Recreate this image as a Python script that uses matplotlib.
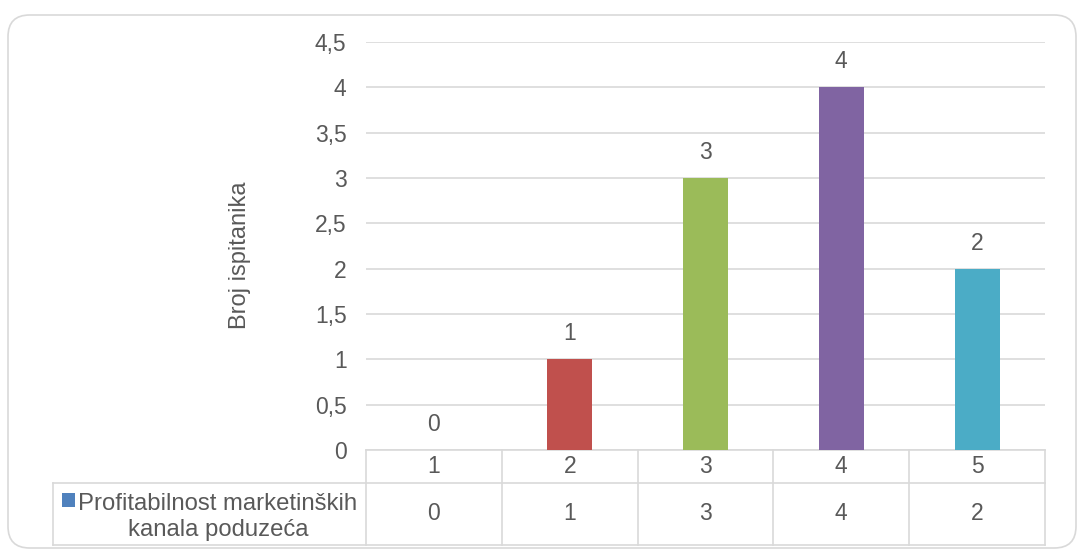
import matplotlib
matplotlib.use("Agg")
import matplotlib.pyplot as plt
import matplotlib.transforms as mtrans
from matplotlib.patches import FancyBboxPatch, Rectangle
from matplotlib.lines import Line2D

plt.rcParams['font.family'] = ['Liberation Sans', 'DejaVu Sans']

categories = ["1", "2", "3", "4", "5"]
values = [0, 1, 3, 4, 2]
series_name = "Profitabilnost marketinških\nkanala poduzeća"
y_label = "Broj ispitanika"
y_ticks = [0, 0.5, 1, 1.5, 2, 2.5, 3, 3.5, 4, 4.5]
y_tick_labels = ["0", "0,5", "1", "1,5", "2", "2,5", "3", "3,5", "4", "4,5"]
bar_colors = ["#4F81BD", "#C0504D", "#9BBB59", "#8064A2", "#4BACC6"]

W, H = 1084, 554
fig = plt.figure(figsize=(W / 100, H / 100), dpi=100)
TXT = "#595959"
GRID = "#D9D9D9"
FS = 16.5


def fx(px):
    return px / W


def fy(py):
    return 1 - py / H


# outer rounded border
border = FancyBboxPatch((fx(8), fy(548)), fx(1076) - fx(8), fy(15) - fy(548),
                        boxstyle="round,pad=0,rounding_size=0.02",
                        transform=fig.transFigure, facecolor="none",
                        edgecolor=GRID, linewidth=1.2, mutation_aspect=W / H, zorder=-5)
fig.add_artist(border)

left, right, top, bottom = 366, 1045, 42, 450
ax = fig.add_axes([fx(left), fy(bottom), fx(right) - fx(left), fy(top) - fy(bottom)])
ax.set_facecolor("none")
x = list(range(len(categories)))
ax.bar(x, values, width=0.33, color=bar_colors, zorder=3)
ax.set_xlim(-0.5, len(categories) - 0.5)
ax.set_ylim(0, 4.5)
ax.set_yticks(y_ticks)
ax.set_yticklabels(y_tick_labels, fontsize=FS, color=TXT)
ax.tick_params(axis='y', length=0, pad=14)
ax.set_xticks([])
for s in ax.spines.values():
    s.set_visible(False)
ax.yaxis.grid(True, color=GRID, linewidth=1.2, zorder=0)
ax.set_axisbelow(True)

fig.text(fx(240), fy(255), y_label, rotation=90, ha="center", va="center",
         fontsize=17, color=TXT)

for xi, v in zip(x, values):
    ax.annotate(str(v), (xi, v), xytext=(0, 10), textcoords="offset points",
                ha="center", va="bottom", fontsize=FS, color=TXT)

# data table
row1_bot = 483
row2_bot = 545
leg_left = 53
ph = bottom - top


def ay(py):
    return (bottom - py) / ph


tr = mtrans.blended_transform_factory(ax.transData, ax.transAxes)
lw = 1.2
for py in [bottom, row1_bot]:
    ax.add_line(Line2D([-0.5, len(categories) - 0.5], [ay(py), ay(py)], transform=tr,
                       color=GRID, lw=lw, clip_on=False))
for b in [i - 0.5 for i in range(len(categories) + 1)]:
    ax.add_line(Line2D([b, b], [ay(bottom), ay(row2_bot)], transform=tr,
                       color=GRID, lw=lw, clip_on=False))
fig.add_artist(Line2D([fx(leg_left), fx(right)], [fy(row2_bot), fy(row2_bot)], color=GRID, lw=lw))
fig.add_artist(Line2D([fx(leg_left), fx(left)], [fy(row1_bot), fy(row1_bot)], color=GRID, lw=lw))
fig.add_artist(Line2D([fx(leg_left), fx(leg_left)], [fy(row1_bot), fy(row2_bot)], color=GRID, lw=lw))

for xi, c, v in zip(x, categories, values):
    ax.text(xi, ay((bottom + row1_bot) / 2), c, transform=tr, ha="center", va="center",
            fontsize=FS, color=TXT)
    ax.text(xi, ay((row1_bot + row2_bot) / 2), str(v), transform=tr, ha="center", va="center",
            fontsize=FS, color=TXT)

fig.add_artist(Rectangle((fx(62), fy(507)), fx(75) - fx(62), fy(493) - fy(507),
                         transform=fig.transFigure, facecolor=bar_colors[0], edgecolor="none"))
fig.text(fx(218), fy(517), series_name, ha="center", va="center", fontsize=17.2, color=TXT,
         linespacing=1.2)

fig.savefig("out.png", dpi=100)
